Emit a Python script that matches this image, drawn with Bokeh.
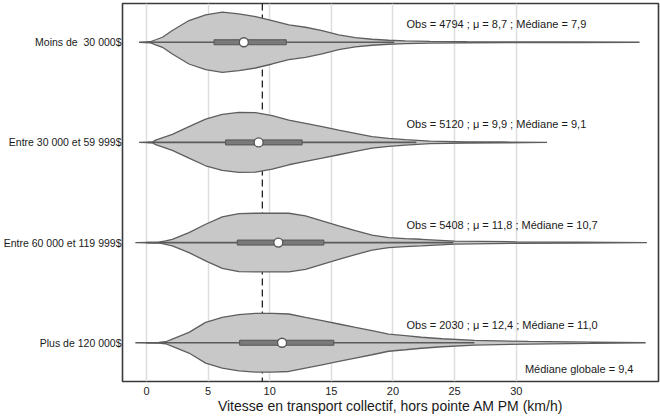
from bokeh.plotting import figure
from bokeh.models import Range1d, FixedTicker, Span, ColumnDataSource
from bokeh.core.properties import value
from bokeh.embed import file_html
from bokeh.resources import INLINE

# ---- data ----
categories = ["Moins de\u00a0 30 000$", "Entre 30 000 et 59 999$",
              "Entre 60 000 et 119 999$", "Plus de 120 000$"]
positions = [1, 2, 3, 4]

# kernel density profiles (x = speed km/h, d = relative density)
v1_x = [-0.6, 0.3, 0.75, 1.3, 2.1, 3.45, 4.8, 6.15, 7.5, 8.85, 10.2, 11.55, 12.9, 14.25, 15.6, 16.95, 18.3, 19.65, 21, 23, 26, 30, 35, 40]
v1_d = [0, 0.5, 2.5, 5, 11.7, 21.7, 27.3, 30, 28.3, 25.7, 21.7, 17.3, 15, 11.7, 7.3, 4.7, 3, 2, 1.3, 0.8, 0.5, 0.4, 0.3, 0]
v2_x = [-0.6, 0.5, 0.75, 2.1, 3.45, 4.8, 6.15, 7.5, 8.85, 10.2, 11.55, 12.9, 14.25, 15.6, 16.95, 18.3, 19.65, 21, 23, 26, 29, 32.5]
v2_d = [0, 0.5, 2.3, 8, 15.7, 23.3, 28, 30, 29.7, 26.7, 22.3, 19, 15.7, 12.3, 9, 5.7, 4, 2.7, 1.2, 0.6, 0.4, 0]
v3_x = [-0.9, 1.0, 1.56, 2.1, 3.45, 4.8, 6.15, 7.5, 8.85, 10.2, 11.55, 12.9, 14.25, 15.6, 16.95, 18.3, 19.65, 21, 22.3, 25, 30, 35, 40.6]
v3_d = [0, 0.4, 1.7, 3.3, 10, 18.3, 25.7, 29, 29.3, 29.3, 29.3, 26.7, 21.7, 16.7, 12, 7.5, 5, 4, 3.3, 1.5, 0.8, 0.5, 0]
v4_x = [-0.9, 1.0, 1.56, 2.1, 3.45, 4.8, 6.15, 7.5, 8.85, 10.2, 11.55, 12.9, 14.25, 15.6, 16.95, 18.3, 19.65, 21, 22.3, 24, 26.6, 31, 36, 40.5]
v4_d = [0, 0.3, 1, 3.7, 10.3, 20.3, 25.3, 28, 29.3, 29.3, 28.7, 25.3, 22, 18.7, 15.3, 12, 8.5, 7, 5.5, 4, 2.3, 1.3, 0.7, 0]

q1 = [5.48, 6.42, 7.37, 7.56]
median = [7.9, 9.1, 10.7, 11.0]
q3 = [11.34, 12.63, 14.39, 15.2]
whisk_lo = [0.1, 0.1, 0.0, 0.0]
whisk_hi = [20.1, 21.9, 24.9, 26.6]
obs = [4794, 5120, 5408, 2030]
mean = [8.7, 9.9, 11.8, 12.4]
global_median = 9.4
x_ticks = [0, 5, 10, 15, 20, 25, 30]
x_title = "Vitesse en transport collectif, hors pointe AM PM (km/h)"

FONT = "Liberation Sans"
HALF = 0.30  # max half-width of a violin (y units)

def fr(v):
    return f"{v:.1f}".replace(".", ",")

p = figure(width=660, height=416, output_backend="svg", toolbar_location=None,
           x_range=Range1d(-1.943, 41.54), y_range=Range1d(4.387, 0.613),
           min_border_left=121, min_border_right=2, min_border_top=3, min_border_bottom=33)
p.background_fill_color = "white"
p.border_fill_color = "white"
p.outline_line_color = "#3a3a3a"
p.outline_line_width = 1.6

p.ygrid.visible = False
p.xgrid.ticker = FixedTicker(ticks=x_ticks)
p.xgrid.grid_line_color = "#dedede"
p.xgrid.grid_line_width = 1.5

ya = p.yaxis[0]
ya.ticker = FixedTicker(ticks=positions)
ya.major_label_overrides = {c: lab for c, lab in zip(positions, categories)}
ya.axis_line_color = None
ya.major_tick_line_color = None
ya.minor_tick_line_color = None
ya.major_tick_out = 0
ya.major_tick_in = 0
ya.major_label_standoff = 1
ya.major_label_text_font = FONT
ya.major_label_text_font_size = "10.5px"
ya.major_label_text_color = "#1a1a1a"

xa = p.xaxis[0]
xa.ticker = FixedTicker(ticks=x_ticks)
xa.axis_line_color = None
xa.major_tick_line_color = None
xa.minor_tick_line_color = None
xa.major_tick_out = 0
xa.major_tick_in = 0
xa.major_label_standoff = 5
xa.major_label_text_font = FONT
xa.major_label_text_font_size = "11px"
xa.major_label_text_color = "#222222"
xa.axis_label = x_title
xa.axis_label_standoff = 0
xa.axis_label_text_font = FONT
xa.axis_label_text_font_style = "normal"
xa.axis_label_text_font_size = "14px"
xa.axis_label_text_color = "#1a1a1a"

p.add_layout(Span(location=global_median, dimension="height", line_color="#111111",
                  line_dash="7 4", line_width=1.2, level="underlay"))

profiles = [(v1_x, v1_d), (v2_x, v2_d), (v3_x, v3_d), (v4_x, v4_d)]
xs, ys = [], []
for c, (vx, vd) in zip(positions, profiles):
    w = [d / 30.0 * HALF for d in vd]
    xs.append(list(vx) + list(vx[::-1]))
    ys.append([c - wi for wi in w] + [c + wi for wi in w[::-1]])
p.patches(xs, ys, fill_color="#c8c8c8", line_color="#5e5e5e", line_width=1.3)

p.segment(x0=whisk_lo, y0=positions, x1=whisk_hi, y1=positions,
          line_color="#5a5a5a", line_width=1.6)
p.hbar(y=positions, left=q1, right=q3, height=0.05,
       fill_color="#7a7a7a", line_color="#555555", line_width=1)
p.scatter(x=median, y=positions, size=9, fill_color="white",
          line_color="#555555", line_width=1.3)

stats = [f"Obs = {o} ; \u03bc = {fr(m)} ; M\u00e9diane = {fr(md)}"
         for o, m, md in zip(obs, mean, median)]
src = ColumnDataSource(dict(x=[21.1] * 4, y=[c - 0.18 for c in positions], t=stats))
p.text(x="x", y="y", text="t", source=src, text_font=value(FONT),
       text_font_size="11px", text_baseline="middle", text_align="left",
       text_color="#1a1a1a")
p.text(x=[30.7], y=[4.265], text=[f"M\u00e9diane globale = {fr(global_median)}"],
       text_font=value(FONT), text_font_size="11px", text_baseline="middle",
       text_align="left", text_color="#1a1a1a")

open("out.html", "w").write(file_html(p, INLINE))
